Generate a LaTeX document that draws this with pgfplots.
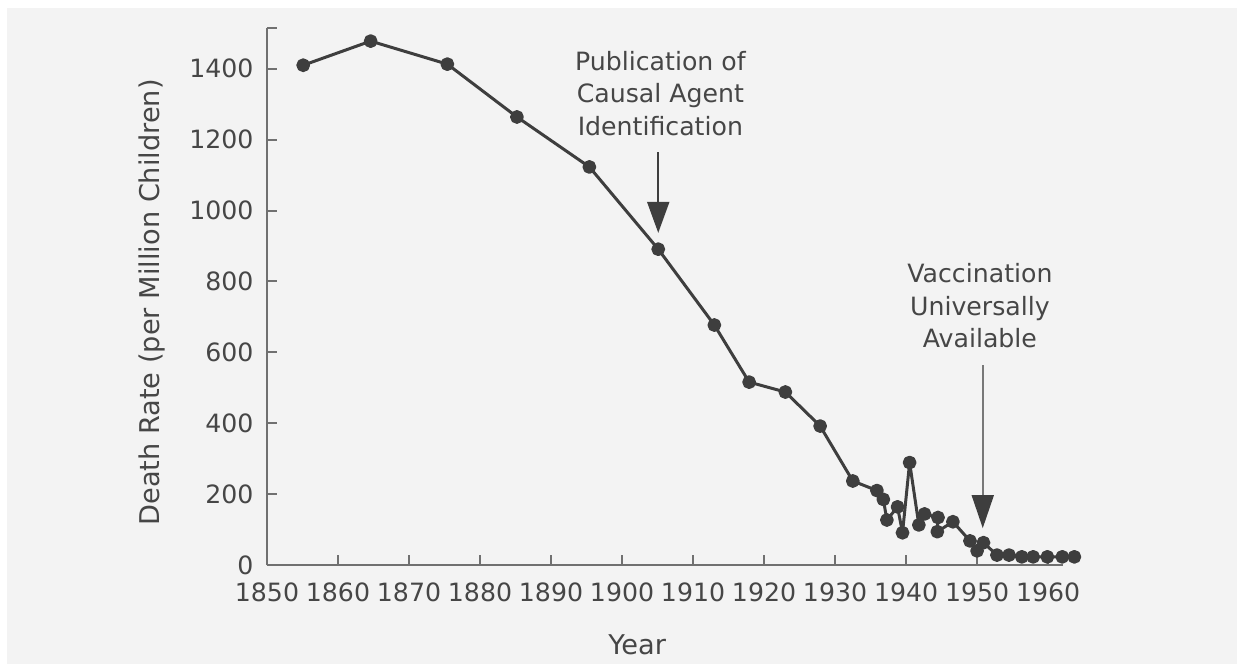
\documentclass[border=0pt]{standalone}
\usepackage{fontspec}
\setmainfont{DejaVu Sans}
\usepackage{pgfplots}
\pgfplotsset{compat=1.18}
\usetikzlibrary{arrows.meta}

\definecolor{panel}{RGB}{243,243,243}
\definecolor{axisgray}{RGB}{112,112,112}
\definecolor{linegray}{RGB}{62,62,62}
\definecolor{textgray}{RGB}{70,70,70}
\definecolor{arrowgray}{RGB}{120,120,120}

\newcommand{\chartfont}{\fontsize{12.6}{16.2}\selectfont}
\newcommand{\labelfont}{\fontsize{13.6}{16}\selectfont}

\begin{document}
\begin{tikzpicture}
% page and panel (1 px = 0.5pt, axis corner at px 267,565)
\fill[white] (-133.5pt,-49.5pt) rectangle (485pt,282.5pt);
\fill[panel] (-130pt,-49.5pt) rectangle (485pt,278.5pt);

\begin{axis}[
  at={(0pt,0pt)}, anchor=south west,
  scale only axis,
  width=398pt, height=268.5pt,
  xmin=1850, xmax=1962.1,
  ymin=0, ymax=1515,
  axis lines*=left,
  axis line style={draw=axisgray, line width=1pt},
  tick style={draw=axisgray, line width=1pt},
  major tick length=5pt,
  tick align=inside,
  xtick={1850,1860,...,1960},
  ytick={0,200,...,1400},
  extra y ticks={1515},
  extra y tick labels={},
  scaled ticks=false,
  /pgf/number format/1000 sep={},
  /pgf/number format/assume math mode=true,
  ticklabel style={font=\chartfont, text=textgray},
  yticklabel style={xshift=-3.2pt},
  xticklabel style={yshift=-5.2pt},
  xlabel={Year},
  ylabel={Death Rate (per Million Children)},
  label style={font=\labelfont, text=textgray},
  xlabel style={at={(axis description cs:0.465,-0.149)}, anchor=center},
  ylabel style={at={(axis description cs:-0.1445,0.489)}, anchor=center},
  clip=false,
]
\addplot[color=linegray, line width=1.5pt, line join=round, mark=*,
  mark options={fill=linegray, draw=linegray, scale=1.35}]
table {
1855.1 1410
1864.6 1478
1875.4 1413
1885.2 1264
1895.4 1123
1905.1 891
1913.0 677
1917.9 516
1923.0 488
1927.9 392
1932.5 237
1935.9 210
1936.8 185
1937.3 127
1938.8 164
1939.5 91
1940.5 289
1941.8 113
1942.6 144
1944.5 134
1944.4 94
1946.6 122
1949.0 68
1950.0 40
1950.9 63
1952.8 28
1954.5 28
1956.3 23
1957.9 23
1959.9 23
1962.0 23
1963.7 23
};

% annotations
\node[font=\chartfont, text=textgray, align=center]
  at (axis cs:1905.4,1331) {Publication of\\Causal Agent\\Identification};
\draw[draw=linegray, line width=1pt,
  -{Triangle[length=15.5pt, width=11pt, color=linegray, fill=linegray]}]
  (axis cs:1905.1,1165) -- (axis cs:1905.1,937);

\node[font=\chartfont, text=textgray, align=center]
  at (axis cs:1950.4,731) {Vaccination\\Universally\\Available};
\draw[draw=arrowgray, line width=0.9pt,
  -{Triangle[length=16.5pt, width=11pt, color=linegray, fill=linegray]}]
  (axis cs:1950.8,564) -- (axis cs:1950.8,104);
\end{axis}
\end{tikzpicture}
\end{document}
